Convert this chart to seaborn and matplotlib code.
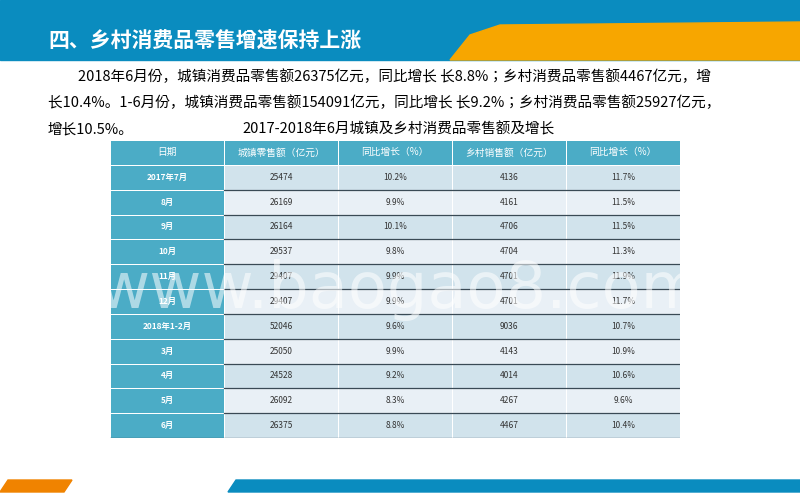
import matplotlib
matplotlib.use("Agg")
import matplotlib.pyplot as plt
import seaborn as sns
import numpy as np
from matplotlib.colors import ListedColormap
from matplotlib.patches import Polygon, Rectangle
from matplotlib import font_manager

cands = ["Noto Sans CJK SC", "Noto Sans CJK JP", "Noto Sans CJK TC", "Noto Sans CJK KR"]
avail = {f.name for f in font_manager.fontManager.ttflist}
fam = [c for c in cands if c in avail] + ["DejaVu Sans"]
plt.rcParams["font.family"] = fam

headers = ["日期", "城镇零售额（亿元）", "同比增长（%）", "乡村销售额（亿元）", "同比增长（%）"]
periods = ["2017年7月", "8月", "9月", "10月", "11月", "12月", "2018年1-2月", "3月", "4月", "5月", "6月"]
urban = [25474, 26169, 26164, 29537, 29407, 29407, 52046, 25050, 24528, 26092, 26375]
urban_g = [10.2, 9.9, 10.1, 9.8, 9.9, 9.9, 9.6, 9.9, 9.2, 8.3, 8.8]
rural = [4136, 4161, 4706, 4704, 4701, 4701, 9036, 4143, 4014, 4267, 4467]
rural_g = [11.7, 11.5, 11.5, 11.3, 11.9, 11.7, 10.7, 10.9, 10.6, 9.6, 10.4]

fig = plt.figure(figsize=(8, 4.99), dpi=100)
bg = fig.add_axes([0, 0, 1, 1])
bg.set_xlim(0, 800); bg.set_ylim(499, 0); bg.axis("off")
bg.add_patch(Rectangle((0, 0), 800, 60, color="#0a8cbf"))
bg.add_patch(Polygon([(450, 60), (470, 35), (500, 25), (800, 22), (800, 60)], color="#f7a600"))
bg.add_patch(Polygon([(0, 492), (8, 480), (72, 480), (64, 492)], color="#f08300"))
bg.add_patch(Polygon([(228, 492), (236, 480), (800, 480), (800, 492)], color="#0a8cbf"))
bg.text(48, 40, "四、乡村消费品零售增速保持上涨", color="white", fontsize=15, fontweight="bold", va="center")
tf = 10.5
bg.text(78, 77, "2018年6月份，城镇消费品零售额26375亿元，同比增长 长8.8%；乡村消费品零售额4467亿元，增", fontsize=tf, va="center")
bg.text(48, 103, "长10.4%。1-6月份，城镇消费品零售额154091亿元，同比增长 长9.2%；乡村消费品零售额25927亿元，", fontsize=tf, va="center")
bg.text(48, 129, "增长10.5%。", fontsize=tf, va="center")
bg.text(242, 129, "2017-2018年6月城镇及乡村消费品零售额及增长", fontsize=tf, va="center")

n = len(periods)
codes = np.zeros((n + 1, 5))
labels = [headers]
for i in range(n):
    codes[i + 1, 1:] = 1 if i % 2 == 0 else 2
    labels.append([periods[i], str(urban[i]), f"{urban_g[i]:.1f}%", str(rural[i]), f"{rural_g[i]:.1f}%"])
labels = np.array(labels)

ax = fig.add_axes([110 / 800, 1 - 438 / 499, 570 / 800, 298 / 499])
cmap = ListedColormap(["#4bacc6", "#d1e3ec", "#e9f0f6"])
sns.heatmap(codes, ax=ax, cmap=cmap, vmin=-0.5, vmax=2.5, cbar=False, annot=False,
            linewidths=0.6, linecolor="white", xticklabels=False, yticklabels=False)
for r in range(n + 1):
    for c in range(5):
        teal = r == 0 or c == 0
        ax.text(c + 0.5, r + 0.5, labels[r, c], ha="center", va="center",
                fontsize=7 if r == 0 else 6,
                color="white" if teal else "#333333",
                fontweight="bold" if (c == 0 and r > 0) else "normal")
for r in range(2, n + 1):
    ax.plot([1, 5], [r, r], color="#3a4a55", lw=0.9)
ax.plot([0, 5], [n + 1, n + 1], color="#3a4a55", lw=0.9)

bg2 = fig.add_axes([0, 0, 1, 1]); bg2.set_xlim(0, 800); bg2.set_ylim(499, 0); bg2.axis("off")
bg2.text(400, 290, "www.baogao8.com", fontsize=46, color="white", alpha=0.55, ha="center", va="center",
         family="DejaVu Sans")

fig.savefig("out.png", dpi=100)
